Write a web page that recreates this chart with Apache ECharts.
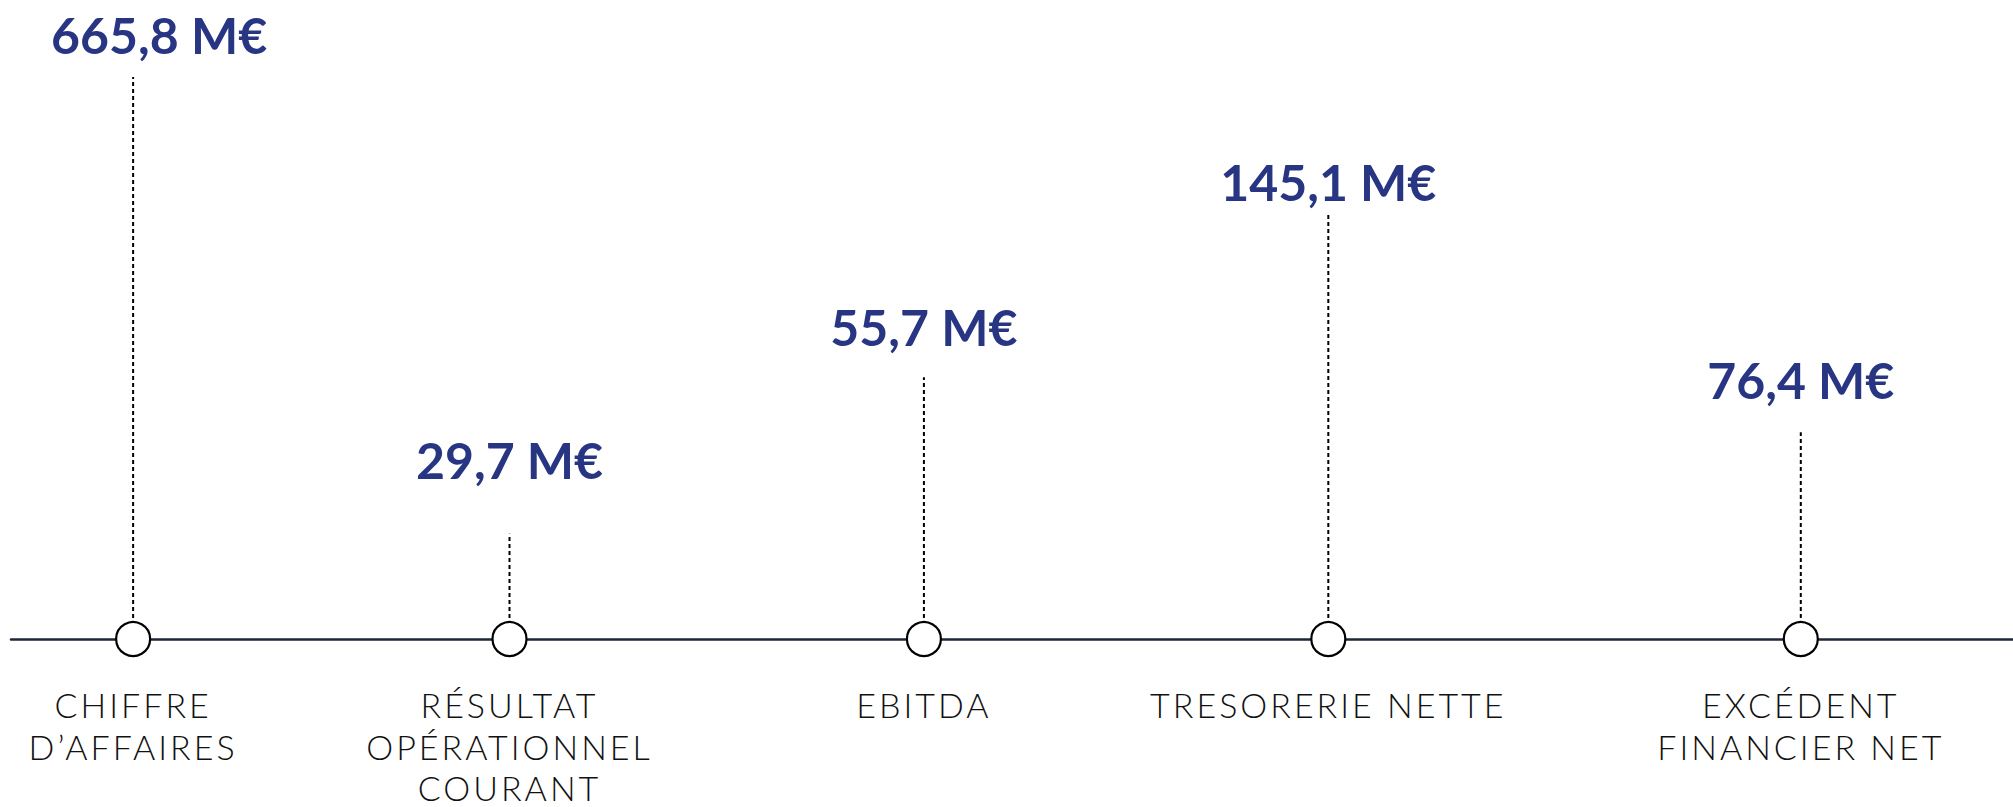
<!DOCTYPE html>
<html>
<head>
<meta charset="utf-8">
<script src="https://cdn.jsdelivr.net/npm/echarts@6/dist/echarts.min.js"></script>
<style>
  html, body { margin: 0; padding: 0; background: #fff; }
  #chart { width: 2013px; height: 807px; }
  #chart text { letter-spacing: 3px; }
  #chart text[style*="bold"] { letter-spacing: 0; }
</style>
</head>
<body>
<div id="chart"></div>
<script>
// indicateurs clés
const names = [
  "CHIFFRE\nD’AFFAIRES",
  "RÉSULTAT\nOPÉRATIONNEL\nCOURANT",
  "EBITDA",
  "TRESORERIE NETTE",
  "EXCÉDENT\nFINANCIER NET",
];
const values = [665.8, 29.7, 55.7, 145.1, 76.4];
// position le long de la frise (0-100)
const xPos = [6.1, 24.9, 45.6, 65.8, 89.4];
// hauteur des tiges pointillées et des étiquettes (0-100)
const levels = [90.8, 17, 42.3, 68.5, 33.4];
const labelLevels = [97.6, 28.9, 50.4, 73.8, 41.8];

const fmt = (v) => v.toFixed(1).replace(".", ",") + " M€";

const chart = echarts.init(document.getElementById("chart"), null, {
  renderer: "svg",
});

const option = {
  animation: false,
  grid: { left: 11, right: 0, top: 20, bottom: 168 },
  xAxis: {
    type: "value",
    min: 0,
    max: 100,
    axisLine: {
      show: true,
      lineStyle: { color: "#1d2738", width: 2.5 },
    },
    axisTick: { show: false },
    axisLabel: { show: false },
    splitLine: { show: false },
  },
  yAxis: {
    type: "value",
    min: 0,
    max: 100,
    show: false,
  },
  series: [
    {
      // tiges pointillées
      type: "custom",
      silent: true,
      data: xPos.map((x, i) => [x, levels[i]]),
      renderItem: (params, api) => {
        const p0 = api.coord([api.value(0), 0]);
        const p1 = api.coord([api.value(0), api.value(1)]);
        return {
          type: "line",
          shape: { x1: p0[0], y1: p0[1], x2: p1[0], y2: p1[1] },
          style: { stroke: "#000", lineWidth: 2, lineDash: [4, 3] },
        };
      },
      z: 2,
    },
    {
      // valeurs
      type: "scatter",
      symbolSize: 0,
      silent: true,
      itemStyle: { opacity: 1 },
      data: xPos.map((x, i) => ({
        value: [x, labelLevels[i]],
        label: i === 0 ? { offset: [26, 0] } : undefined,
      })),
      label: {
        show: true,
        position: "inside",
        formatter: (p) => fmt(values[p.dataIndex]),
        color: "#283583",
        fontFamily: "Lato",
        fontWeight: "bold",
        fontSize: 50,
      },
      z: 3,
    },
    {
      // cercles + libellés
      type: "scatter",
      symbol: "circle",
      symbolSize: 34,
      silent: true,
      itemStyle: {
        color: "#fff",
        borderColor: "#000",
        borderWidth: 2.2,
        opacity: 1,
      },
      data: xPos.map((x) => [x, 0]),
      label: {
        show: true,
        position: "bottom",
        distance: 27,
        formatter: (p) => names[p.dataIndex],
        color: "#111",
        fontFamily: "Lato",
        fontWeight: 300,
        fontSize: 34,
        lineHeight: 41.5,
        align: "center",
      },
      z: 4,
    },
  ],
};

chart.setOption(option);
</script>
</body>
</html>
